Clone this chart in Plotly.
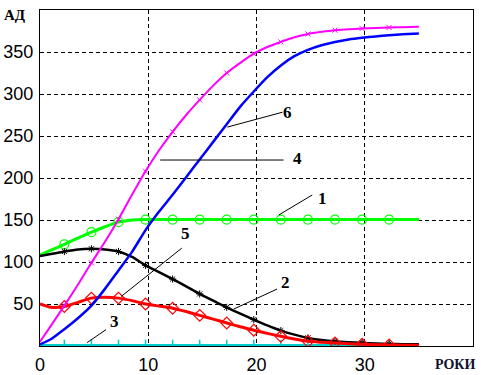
import plotly.graph_objects as go

# time (years)
t = [0, 1, 2.25, 3.5, 4.75, 6, 7.25, 8.5, 9.75, 11, 12.25, 13.5, 14.75, 16, 17.25,
     18.5, 19.75, 21, 22.25, 23.5, 24.75, 26, 27.25, 28.5, 29.75, 31, 32.25, 33.5, 35]

s1_green = [108, 114, 121, 128.5, 135.5, 142, 147.5, 150, 150.5, 150.5, 150.5, 150.5, 150.5, 150.5, 150.5,
            150.5, 150.5, 150.5, 150.5, 150.5, 150.5, 150.5, 150.5, 150.5, 150.5, 150.5, 150.5, 150.5, 150.5]
s2_black = [107, 109.5, 112.5, 115, 115.7, 115, 112.5, 106, 96, 88, 79.7, 71, 62, 54, 46,
            38.5, 31.4, 24.5, 18.3, 13.5, 9.6, 7.2, 5.6, 4.5, 3.7, 3, 2.5, 2.2, 2]
s3_cyan = [0] * 29
s4_magenta = [5, 24, 48, 73, 99, 124, 151, 180, 208, 233, 255, 275, 293, 310, 325,
              337, 348, 356, 362, 367.5, 371.5, 374, 376, 377, 378, 378.7, 379.2, 379.6, 380]
s5_red = [50, 46, 47, 52, 57, 58, 57, 54, 50, 47.5, 45, 41, 36.5, 32, 27.4,
          23, 18.7, 15, 11.5, 8.3, 5.6, 4.5, 3.7, 2.8, 2, 1.6, 1.3, 1, 0.8]
s6_blue = [2, 8, 20, 33, 48, 68, 90, 112, 138, 160, 180, 201, 222, 243, 264,
           285, 303, 320, 334, 345, 352.5, 358, 362, 365, 367, 368.5, 370, 371, 372]

x_ticks = [0, 10, 20, 30]
y_ticks = [50, 100, 150, 200, 250, 300, 350]

# curve labels: (text, label x, label y, leader from x, from y, to x, to y)
labels = [
    ("1", 26.1, 176, 25.15, 179.8, 22.06, 156),
    ("2", 22.7, 76, 21.9, 67.8, 17.9, 44),
    ("3", 6.9, 29.6, 6.1, 19.5, 4.35, 4),
    ("4", 23.8, 223, 11.1, 221.4, 22.5, 221.4),
    ("5", 13.4, 134, 13.1, 116.5, 7.5, 59),
    ("6", 22.9, 278, 22.4, 278.3, 17.3, 260.6),
]

mk_idx = list(range(2, 27, 2))
tm = [t[i] for i in mk_idx]

fig = go.Figure()

def add(series, color, width, symbol=None, msize=8, mline=1.2):
    fig.add_trace(go.Scatter(x=t, y=series, mode="lines",
                             line=dict(color=color, width=width, shape="spline", smoothing=0.6),
                             hoverinfo="skip", showlegend=False))
    if symbol:
        fig.add_trace(go.Scatter(x=tm, y=[series[i] for i in mk_idx], mode="markers",
                                 marker=dict(symbol=symbol, size=msize, color=color,
                                             line=dict(color=color, width=mline)),
                                 hoverinfo="skip", showlegend=False))

add(s3_cyan, "#00CCCC", 4, "line-ns", 9, 1.5)
add(s1_green, "#00FF00", 3, "circle-open", 9, 1.2)
add(s2_black, "#000000", 2.5, "asterisk-open", 6, 1)
add(s5_red, "#FF0000", 3, "diamond-open", 9, 1.2)
add(s4_magenta, "#FF00FF", 2, "x-thin-open", 5, 1)
add(s6_blue, "#0000FF", 2.5)

for txt, lx, ly, x0, y0, x1, y1 in labels:
    fig.add_shape(type="line", x0=x0, y0=y0, x1=x1, y1=y1, xref="x", yref="y",
                  line=dict(color="black", width=1))
    fig.add_annotation(x=lx, y=ly, xref="x", yref="y", text="<b>" + txt + "</b>",
                       showarrow=False,
                       font=dict(family="Liberation Serif", size=17, color="black"))

fig.add_annotation(x=0, y=1, xref="paper", yref="paper", xanchor="right", yanchor="top",
                   xshift=-12, yshift=5, text="<b>АД</b>", showarrow=False,
                   font=dict(family="Liberation Serif", size=15, color="black"))
fig.add_annotation(x=1, y=0, xref="paper", yref="paper", xanchor="right", yanchor="top",
                   xshift=5, yshift=-9, text="<b>РОКИ</b>", showarrow=False,
                   font=dict(family="Liberation Serif", size=14, color="#101030"))

axis_common = dict(showline=True, linecolor="black", linewidth=1, mirror=True,
                   showgrid=True, gridcolor="black", gridwidth=1, griddash="4px,3px",
                   zeroline=False, ticks="", layer="below traces", automargin=False,
                   tickfont=dict(family="Liberation Sans", size=18, color="black"))

fig.update_xaxes(range=[0, 40], tickvals=x_ticks, ticktext=[str(v) for v in x_ticks],
                 ticklabelstandoff=2, **axis_common)
fig.update_yaxes(range=[0, 400], tickvals=y_ticks, ticktext=[str(v) for v in y_ticks],
                 ticklabelstandoff=2, **axis_common)

fig.update_layout(width=481, height=375, margin=dict(l=40, r=8, t=10, b=29),
                  plot_bgcolor="white", paper_bgcolor="white")

fig.write_html("out.html", config={"displayModeBar": False},
               post_script="document.body.style.margin='0';")
